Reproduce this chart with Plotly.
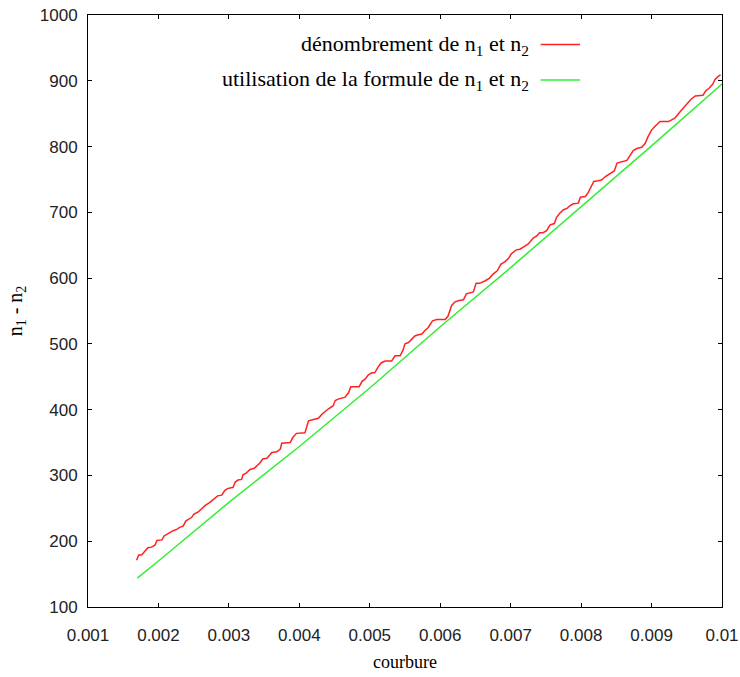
import plotly.graph_objects as go

# --- data ---
courbure_denombrement = [
    0.00169, 0.00172, 0.00176, 0.00180, 0.00183, 0.00185, 0.00190, 0.00195, 0.00198, 0.00205,
    0.00208, 0.00212, 0.00216, 0.00221, 0.00226, 0.00230, 0.00235, 0.00239, 0.00242, 0.00247,
    0.00250, 0.00257, 0.00261, 0.00266, 0.00273, 0.00278, 0.00284, 0.00290, 0.00294, 0.00298,
    0.00306, 0.00309, 0.00313, 0.00318, 0.00320, 0.00325, 0.00330, 0.00336, 0.00339, 0.00344,
    0.00348, 0.00354, 0.00358, 0.00361, 0.00368, 0.00373, 0.00375, 0.00387, 0.00391, 0.00396,
    0.00408, 0.00411, 0.00413, 0.00420, 0.00427, 0.00432, 0.00436, 0.00441, 0.00448, 0.00451,
    0.00455, 0.00460, 0.00465, 0.00470, 0.00473, 0.00485, 0.00489, 0.00493, 0.00498, 0.00503,
    0.00507, 0.00512, 0.00516, 0.00522, 0.00531, 0.00536, 0.00543, 0.00547, 0.00550, 0.00555,
    0.00560, 0.00564, 0.00569, 0.00574, 0.00578, 0.00583, 0.00589, 0.00595, 0.00607, 0.00611,
    0.00616, 0.00621, 0.00627, 0.00633, 0.00637, 0.00642, 0.00647, 0.00651, 0.00656, 0.00664,
    0.00670, 0.00675, 0.00681, 0.00686, 0.00692, 0.00697, 0.00701, 0.00708, 0.00713, 0.00719,
    0.00725, 0.00732, 0.00737, 0.00741, 0.00746, 0.00751, 0.00756, 0.00762, 0.00765, 0.00770,
    0.00775, 0.00780, 0.00784, 0.00789, 0.00796, 0.00799, 0.00806, 0.00810, 0.00814, 0.00818,
    0.00824, 0.00829, 0.00834, 0.00841, 0.00847, 0.00851, 0.00858, 0.00865, 0.00874, 0.00879,
    0.00886, 0.00891, 0.00895, 0.00900, 0.00905, 0.00912, 0.00924, 0.00929, 0.00933, 0.00939,
    0.00945, 0.00951, 0.00956, 0.00962, 0.00973, 0.00977, 0.00982, 0.00987, 0.00990, 0.00995,
    0.00998,
]
n1_n2_denombrement = [
    171, 179, 179, 184, 187, 190, 191, 194, 201, 202,
    208, 211, 213, 216, 218, 221, 223, 231, 233, 236,
    241, 245, 249, 254, 259, 264, 269, 270, 277, 280,
    282, 290, 293, 294, 301, 304, 309, 311, 314, 319,
    325, 326, 331, 335, 336, 340, 349, 350, 358, 364,
    365, 374, 383, 385, 387, 393, 397, 401, 406, 414,
    416, 417, 419, 426, 435, 435, 443, 446, 453, 456,
    456, 465, 471, 474, 474, 482, 482, 490, 500, 502,
    507, 512, 514, 515, 520, 525, 535, 537, 537, 542,
    558, 564, 566, 567, 576, 577, 579, 592, 592, 596,
    600, 606, 611, 621, 625, 630, 637, 643, 644, 648,
    652, 661, 664, 669, 669, 672, 681, 683, 692, 699,
    704, 706, 710, 713, 714, 723, 724, 730, 739, 747,
    748, 749, 754, 759, 763, 775, 777, 779, 794, 797,
    799, 805, 815, 825, 831, 838, 838, 841, 843, 851,
    858, 866, 872, 877, 878, 885, 889, 895, 902, 907,
    909,
]

courbure_formule = [0.0017, 0.002, 0.003, 0.004, 0.005, 0.006, 0.007, 0.008, 0.009, 0.010]
n1_n2_formule = [144, 170, 259, 344, 433, 526, 616, 708, 801, 895]

x_ticks = [0.001, 0.002, 0.003, 0.004, 0.005, 0.006, 0.007, 0.008, 0.009, 0.01]
x_tick_labels = ["0.001", "0.002", "0.003", "0.004", "0.005", "0.006", "0.007", "0.008", "0.009", "0.01"]
y_ticks = [100, 200, 300, 400, 500, 600, 700, 800, 900, 1000]

legend_labels = [
    "dénombrement de n<sub>1</sub> et n<sub>2</sub>",
    "utilisation de la formule de n<sub>1</sub> et n<sub>2</sub>",
]

RED = "#ff2222"
GREEN = "#33ee33"
SERIF = "Liberation Serif, Times New Roman, serif"
SANS = "Liberation Sans, Arial, sans-serif"

fig = go.Figure()
fig.add_trace(go.Scatter(x=courbure_denombrement, y=n1_n2_denombrement, mode="lines",
                         line=dict(color=RED, width=1.5, shape="linear"), name=legend_labels[0],
                         showlegend=False))
fig.add_trace(go.Scatter(x=courbure_formule, y=n1_n2_formule, mode="lines",
                         line=dict(color=GREEN, width=1.5), name=legend_labels[1], showlegend=False))

# legend (text right-aligned, sample line on the right)
legend_y = [0.95, 0.89]
legend_colors = [RED, GREEN]
for lbl, yy, col in zip(legend_labels, legend_y, legend_colors):
    fig.add_annotation(xref="paper", yref="paper", x=0.698, y=yy, text=lbl, showarrow=False,
                       xanchor="right", yanchor="middle",
                       font=dict(family=SERIF, size=22, color="#000"))
    fig.add_shape(type="line", xref="paper", yref="paper", x0=0.714, x1=0.776, y0=yy, y1=yy,
                  line=dict(color=col, width=1.5))

axis_common = dict(showline=True, linecolor="#000", linewidth=1, mirror="ticks",
                   ticks="inside", ticklen=4, tickcolor="#000", showgrid=False, zeroline=False,
                   automargin=False, ticklabeloverflow="allow",
                   tickfont=dict(family=SANS, size=17, color="#222"))

fig.update_xaxes(range=[0.001, 0.01], tickvals=x_ticks, ticktext=x_tick_labels,
                 ticklabelstandoff=13,
                 title=dict(text="courbure", font=dict(family=SERIF, size=18, color="#000"), standoff=10),
                 **axis_common)
fig.update_yaxes(range=[100, 1000], tickvals=y_ticks, ticklabelstandoff=6,
                 title=dict(text="n<sub>1</sub> - n<sub>2</sub>", font=dict(family=SERIF, size=20, color="#000"),
                            standoff=11),
                 **axis_common)

fig.update_layout(width=740, height=677, margin=dict(l=88, r=18, t=15, b=70),
                  paper_bgcolor="white", plot_bgcolor="white")

fig.write_html(
    "out.html",
    config={"displayModeBar": False},
    post_script="document.body.style.margin='0';document.body.style.overflow='hidden';",
)
